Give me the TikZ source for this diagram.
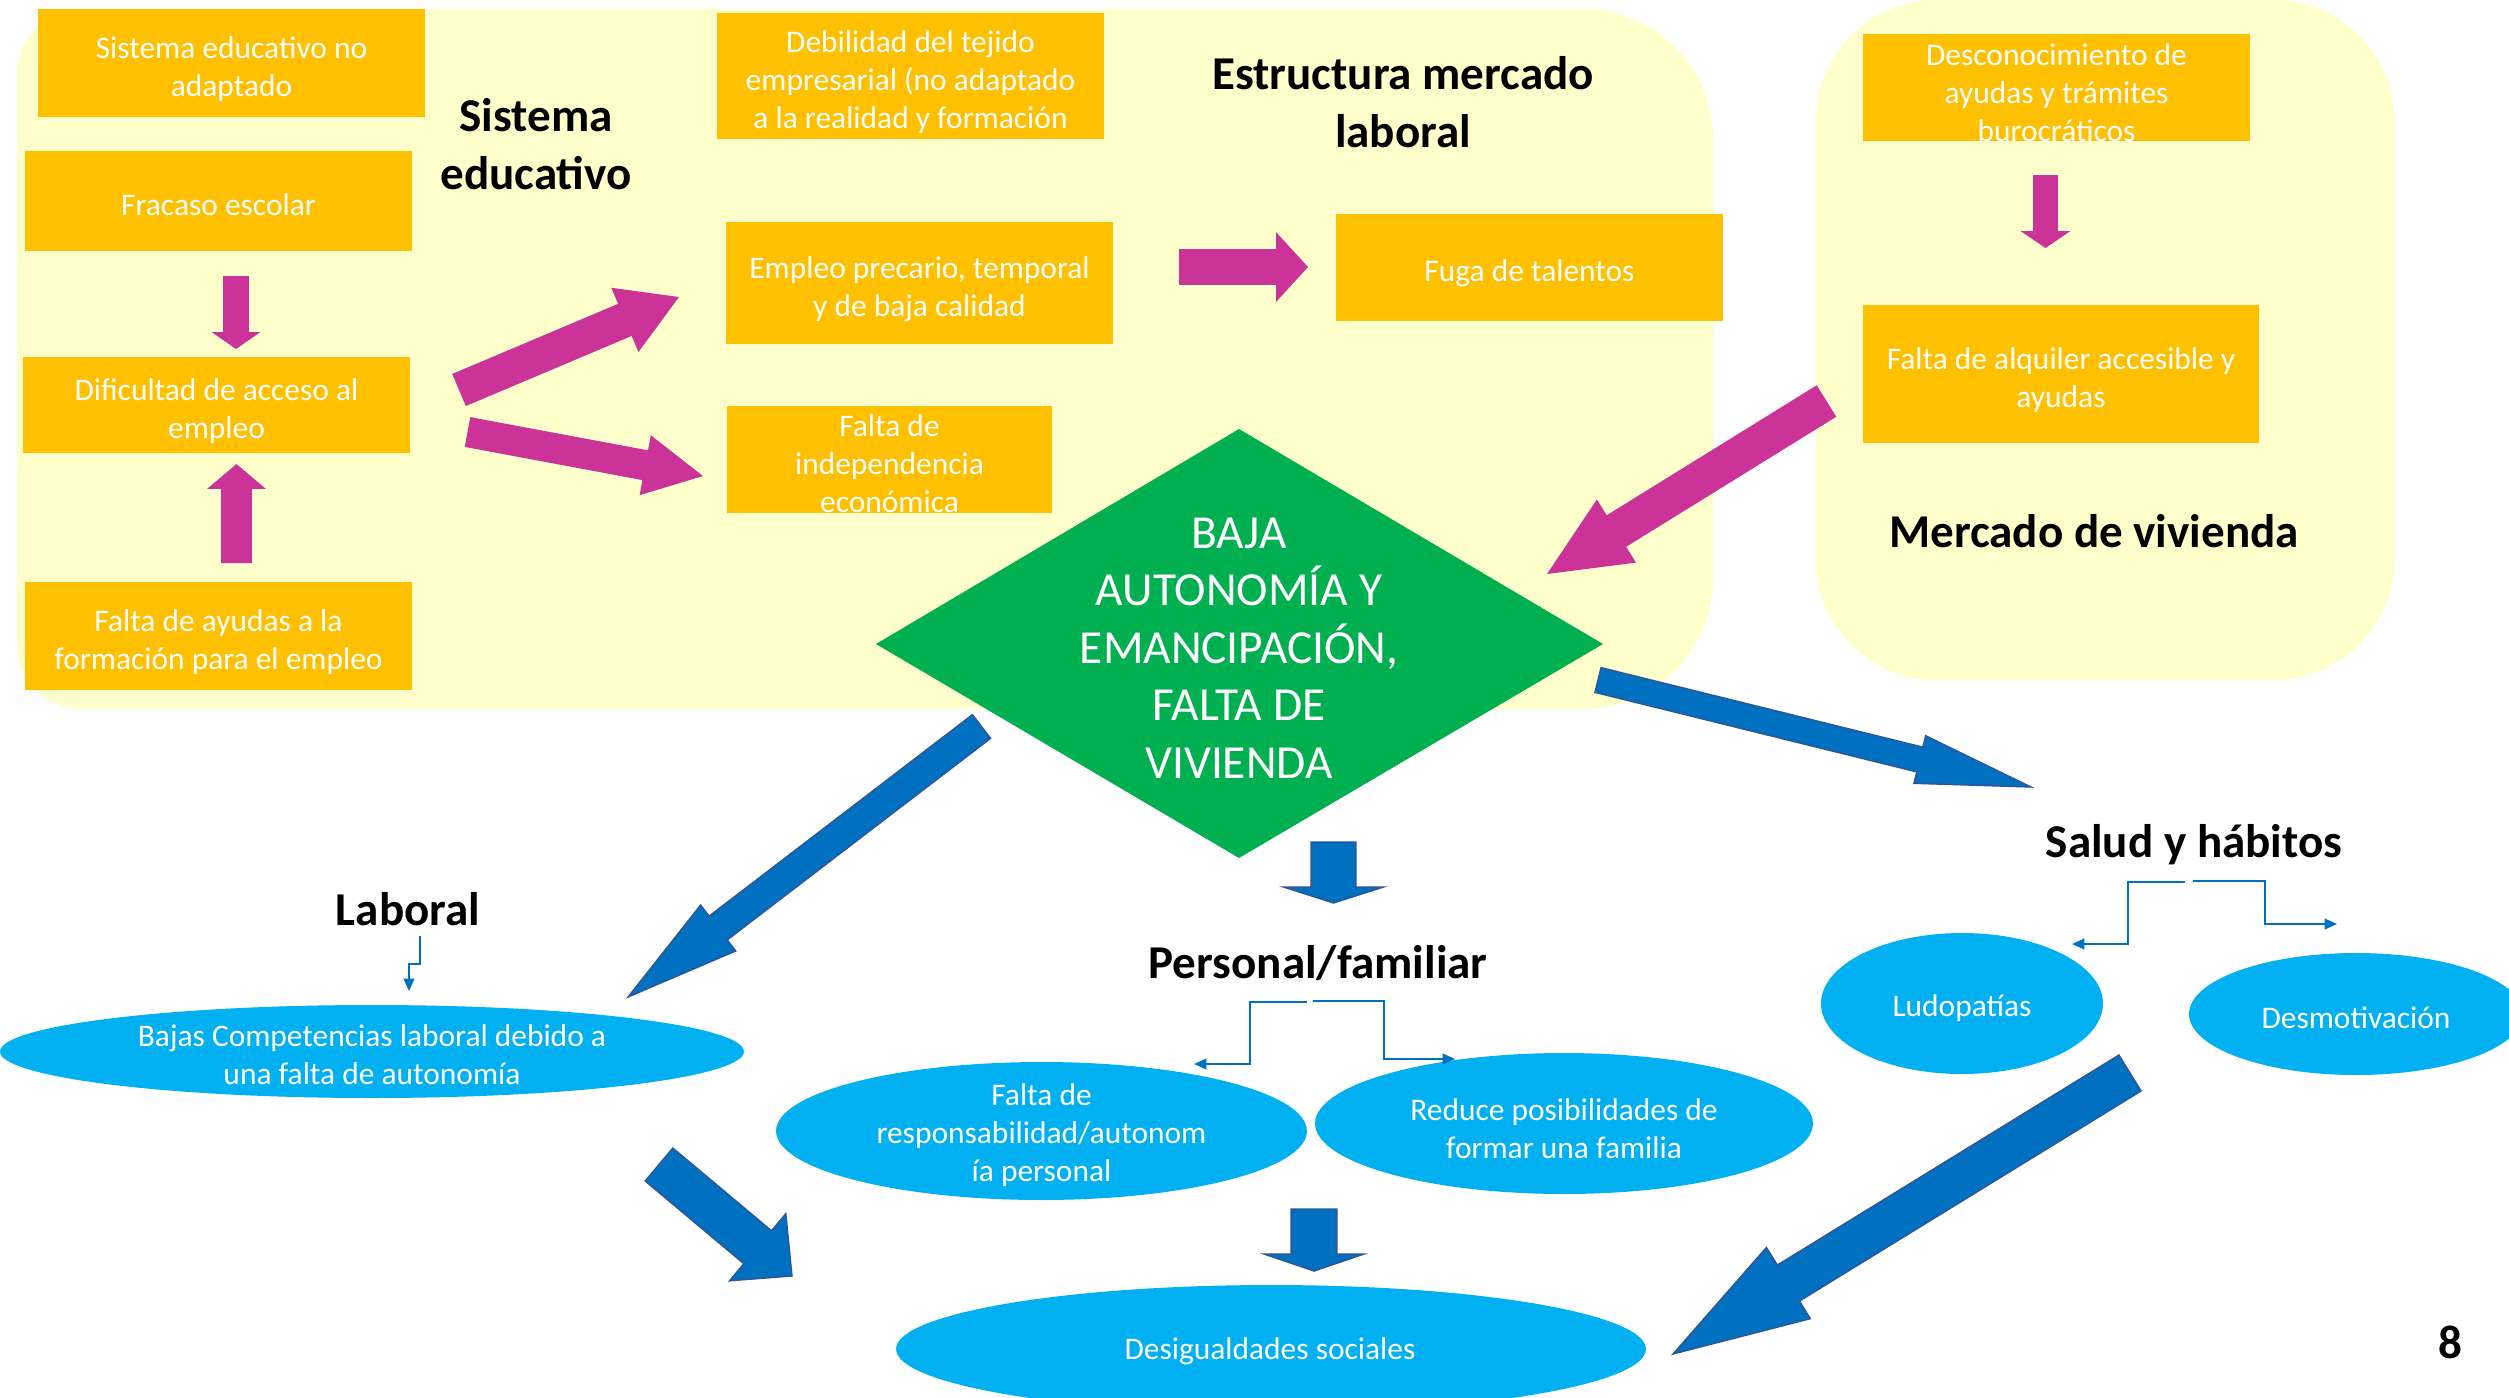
\documentclass[tikz,border=0pt]{standalone}
\usepackage{fontspec}
\setmainfont{Carlito}
\usetikzlibrary{calc,fit,shapes.geometric,arrows.meta}
\definecolor{bgY}{RGB}{255,255,204}
\definecolor{orC}{RGB}{255,192,0}
\definecolor{magC}{RGB}{204,51,153}
\definecolor{grC}{RGB}{0,176,80}
\definecolor{lbC}{RGB}{0,176,240}
\definecolor{blC}{RGB}{0,112,192}
\definecolor{blD}{RGB}{47,85,151}
\newcommand\bodyfont{\fontsize{17.9pt}{21.8pt}\selectfont}
\newcommand\headfont{\fontsize{26.8pt}{32.7pt}\selectfont\bfseries}
\newcommand\diafont{\fontsize{27pt}{32.7pt}\selectfont}
% #1 style, #2 tail, #3 tip, #4 shaft half width (px), #5 head half width (px), #6 head length (px)
\newcommand\blkarrow[6]{%
  \pgfmathsetmacro\bw{#4*0.56693}%
  \pgfmathsetmacro\bh{#5*0.56693}%
  \pgfmathsetmacro\bl{#6*0.56693}%
  \coordinate (hb) at ($(#3)!\bl pt!(#2)$);
  \path[#1] ($(#2)!\bw pt!90:(#3)$) -- ($(hb)!\bw pt!90:(#3)$) -- ($(hb)!\bh pt!90:(#3)$) -- (#3)
    -- ($(hb)!\bh pt!-90:(#3)$) -- ($(hb)!\bw pt!-90:(#3)$) -- ($(#2)!\bw pt!-90:(#3)$) -- cycle;
}
\tikzset{
  obox/.style={fill=orC, inner sep=0pt},
  otext/.style={text=white, align=center, font=\bodyfont, inner sep=0pt},
  ell/.style={ellipse, fill=lbC, inner sep=0pt},
  head/.style={font=\headfont, align=center, text=black, inner sep=0pt},
  thinarr/.style={draw=blC, line width=1.1pt, -{Triangle[length=7pt,width=6pt]}},
  magarr/.style={fill=magC},
  bluearr/.style={fill=blC, draw=blD, line width=0.8pt, line join=miter},
}
\begin{document}
\begin{tikzpicture}[x=0.02cm,y=-0.02cm]
\useasboundingbox (0,0) rectangle (2509,1397);
\fill[white] (0,0) rectangle (2509,1397);

% background regions
\fill[bgY] (17,400) [rounded corners=1.3cm] -- (17,9) -- (900,9) [rounded corners=2.6cm] -- (1713,9) -- (1713,709) -- (900,709) [rounded corners=1.3cm] -- (17,709) -- cycle;
\fill[bgY, rounded corners=2.4cm] (1816,0) rectangle (2394,680);

% orange boxes
\node[obox, fit={(38,9) (425,117)}] (b1) {};
\node[otext] (b1t) at ($(b1.center)+(0,6)$) {Sistema educativo no\\adaptado};
\node[obox, fit={(25,151) (412,251)}] (b2) {};
\node[otext] (b2t) at ($(b2.center)+(0,4)$) {Fracaso escolar};
\node[obox, fit={(23,357) (410,453)}] (b3) {};
\node[otext] (b3t) at ($(b3.center)+(0,6)$) {Dificultad de acceso al\\empleo};
\node[obox, fit={(25,582) (412,690)}] (b4) {};
\node[otext] (b4t) at ($(b4.center)+(0,6)$) {Falta de ayudas a la\\formación para el empleo};
\node[obox, fit={(717,13) (1104,139)}] (b5) {};
\node[otext] (b5t) at ($(b5.center)+(0,6)$) {Debilidad del tejido\\empresarial (no adaptado\\a la realidad y formación};
\node[obox, fit={(726,222) (1113,344)}] (b6) {};
\node[otext] (b6t) at ($(b6.center)+(0,6)$) {Empleo precario, temporal\\y de baja calidad};
\node[obox, fit={(727,406) (1052,513)}] (b7) {};
\node[otext] (b7t) at ($(b7.center)+(0,4)$) {Falta de\\independencia\\económica};
\node[obox, fit={(1336,214) (1723,321)}] (b8) {};
\node[otext] (b8t) at ($(b8.center)+(0,6)$) {Fuga de talentos};
\node[obox, fit={(1863,34) (2250,141)}] (b9) {};
\node[otext] (b9t) at ($(b9.center)+(0,5)$) {Desconocimiento de\\ayudas y trámites\\burocráticos};
\node[obox, fit={(1863,305) (2259,443)}] (b10) {};
\node[otext] (b10t) at ($(b10.center)+(0,6)$) {Falta de alquiler accesible y\\ayudas};

% headings
\node[head] (hsed) at (536,144) {Sistema\\educativo};
\node[head] (hest) at (1403,102) {Estructura mercado\\laboral};
\node[head] (hviv) at (2094,531) {Mercado de vivienda};
\node[head] (hlab) at (408,909) {Laboral};
\node[head] (hper) at (1318,963) {Personal/familiar};
\node[head] (hsal) at (2194,845) {Salud y hábitos};
\node[head] (pnum) at (2450,1342) {8};

% diamond
\fill[grC] (1239,429) -- (1603,644) -- (1239,858) -- (876,644) -- cycle;
\node[text=white, align=center, font=\diafont, inner sep=0pt] (dia) at (1239,648) {BAJA\\AUTONOMÍA Y\\EMANCIPACIÓN,\\FALTA DE\\VIVIENDA};

% ellipses
\node[ell, minimum width=14.88cm, minimum height=1.86cm] (e1) at (372,1051.5) {};
\node[otext] (e1t) at ($(e1.center)+(0,3)$) {Bajas Competencias laboral debido a\\una falta de autonomía};
\node[ell, minimum width=10.62cm, minimum height=2.76cm] (e2) at (1041.5,1131) {};
\node[otext] (e2t) at ($(e2.center)+(0,4)$) {Falta de\\responsabilidad/autonom\\ía personal};
\node[ell, minimum width=9.96cm, minimum height=2.82cm] (e3) at (1564,1123.5) {};
\node[otext] (e3t) at ($(e3.center)+(0,5)$) {Reduce posibilidades de\\formar una familia};
\node[ell, minimum width=15cm, minimum height=2.56cm] (e4) at (1271,1349) {};
\node[otext] (e4t) at (1270,1351) {Desigualdades sociales};
\node[ell, minimum width=5.64cm, minimum height=2.82cm] (e5) at (1962,1003.5) {};
\node[otext] (e5t) at (1962,1008) {Ludopatías};
\node[ell, minimum width=6.68cm, minimum height=2.44cm] (e6) at (2356,1014) {};
\node[otext] (e6t) at (2356,1018) {Desmotivación};

% magenta block arrows
\coordinate (m1a) at (236,276);   \coordinate (m1b) at (236,349);
\blkarrow{magarr}{m1a}{m1b}{13}{24.5}{17}
\coordinate (m2a) at (236.5,563); \coordinate (m2b) at (236.5,464);
\blkarrow{magarr}{m2a}{m2b}{15.5}{29.5}{25}
\coordinate (m3a) at (459,390);   \coordinate (m3b) at (679,297);
\blkarrow{magarr}{m3a}{m3b}{17.5}{35}{59}
\coordinate (m4a) at (467.5,432); \coordinate (m4b) at (703,476);
\blkarrow{magarr}{m4a}{m4b}{15.2}{30.6}{59}
\coordinate (m5a) at (1179,267);  \coordinate (m5b) at (1308,267);
\blkarrow{magarr}{m5a}{m5b}{18}{35}{32}
\coordinate (m6a) at (2045.5,175); \coordinate (m6b) at (2045.5,248);
\blkarrow{magarr}{m6a}{m6b}{12.5}{25}{17}
\coordinate (m7a) at (1826.5,401); \coordinate (m7b) at (1547,574);
\blkarrow{magarr}{m7a}{m7b}{18.6}{37.3}{82}

% blue block arrows
\coordinate (u1a) at (981.5,726.5); \coordinate (u1b) at (628,997);
\blkarrow{bluearr}{u1a}{u1b}{15}{29}{114}
\coordinate (u2a) at (1598,680);  \coordinate (u2b) at (2031,787);
\blkarrow{bluearr}{u2a}{u2b}{12.8}{24.6}{115}
\coordinate (u3a) at (1333.5,842); \coordinate (u3b) at (1333.5,903);
\blkarrow{bluearr}{u3a}{u3b}{22.5}{50}{16}
\coordinate (u4a) at (1314,1209); \coordinate (u4b) at (1314,1271);
\blkarrow{bluearr}{u4a}{u4b}{23}{50}{17}
\coordinate (u5a) at (659,1164.5); \coordinate (u5b) at (792,1276);
\blkarrow{bluearr}{u5a}{u5b}{21.6}{44}{45}
\coordinate (u6a) at (2130,1073); \coordinate (u6b) at (1673,1354);
\blkarrow{bluearr}{u6a}{u6b}{21.2}{42}{136}

% thin elbow connectors
\coordinate (l1) at (420,936);  \coordinate (l2) at (409,991);
\draw[thinarr] (l1) -- (420,964) -- (409,964) -- (l2);
\coordinate (p1) at (1307,1002); \coordinate (p2) at (1194,1064);
\draw[thinarr] (p1) -- (1250,1002) -- (1250,1064) -- (p2);
\coordinate (p3) at (1313,1001); \coordinate (p4) at (1455,1059);
\draw[thinarr] (p3) -- (1384,1001) -- (1384,1059) -- (p4);
\coordinate (s1) at (2185,882); \coordinate (s2) at (2072,944);
\draw[thinarr] (s1) -- (2128,882) -- (2128,944) -- (s2);
\coordinate (s3) at (2193,881); \coordinate (s4) at (2337,924);
\draw[thinarr] (s3) -- (2265,881) -- (2265,924) -- (s4);
\end{tikzpicture}
\end{document}
